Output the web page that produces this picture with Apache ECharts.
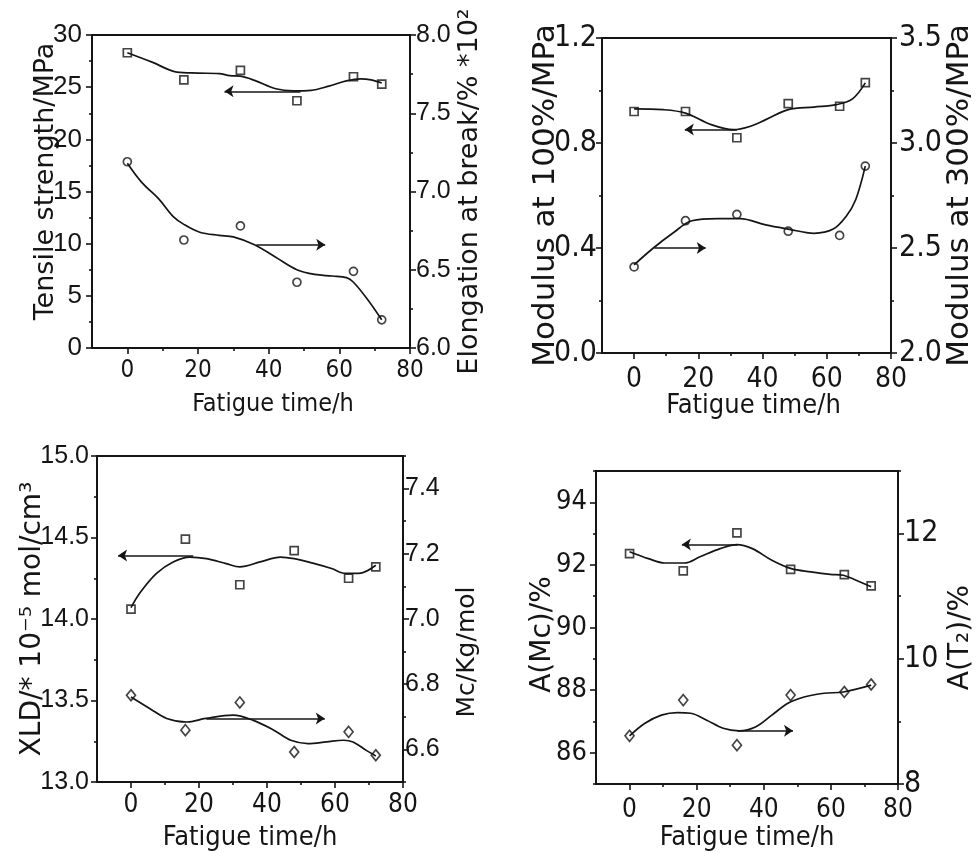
<!DOCTYPE html>
<html>
<head>
<meta charset="utf-8">
<script src="https://cdn.jsdelivr.net/npm/echarts@6/dist/echarts.min.js"></script>
<style>
  html, body { margin: 0; padding: 0; background: #fff; }
  #chart { width: 976px; height: 853px; }
</style>
</head>
<body>
<div id="chart"></div>
<script>
// ---- measured values -------------------------------------------------------
// fatigue times at which the samples were tested (h)
const fatigueTime = [0, 16, 32, 48, 64, 72];

// (a) tensile strength (MPa, left) and elongation at break (%*100, right)
const tensileStrength = [28.3, 25.7, 26.6, 23.7, 26.0, 25.3];
const elongationAtBreak = [7.19, 6.69, 6.78, 6.42, 6.49, 6.18];
const tensileCurve = [[0, 28.3], [7, 27.4], [14, 26.45], [20, 26.35], [26, 26.3], [29, 26.1], [32, 26.05],
  [36, 25.65], [42, 24.85], [47, 24.65], [52, 24.7], [57, 25.1], [62, 25.6], [66, 25.8], [69, 25.7], [72, 25.4]];
const elongationCurve = [[0, 7.18], [4, 7.06], [9, 6.95], [13, 6.84], [16, 6.79], [20.5, 6.74], [26, 6.72],
  [30, 6.71], [36, 6.66], [42, 6.58], [48, 6.50], [53, 6.47], [58, 6.46], [62, 6.45], [64, 6.42], [68, 6.31], [72, 6.18]];
const tensileArrow = { y: 24.6, from: 49, to: 27.5 };
const elongationArrow = { y: 6.66, from: 36.5, to: 56 };

// (b) modulus at 100% (left) and at 300% (right), MPa
const modulus100 = [0.92, 0.92, 0.82, 0.95, 0.94, 1.03];
const modulus300 = [2.41, 2.63, 2.66, 2.58, 2.56, 2.89];
const modulus100Curve = [[0, 0.93], [9, 0.927], [16, 0.914], [24, 0.870], [31, 0.851], [36, 0.863], [41, 0.889],
  [48, 0.927], [56, 0.937], [63, 0.946], [68, 0.968], [72, 1.029]];
const modulus300Curve = [[0, 2.42], [6, 2.50], [12, 2.57], [18, 2.63], [26, 2.64], [33, 2.64], [41, 2.61],
  [48, 2.59], [56, 2.57], [62, 2.59], [66, 2.65], [69, 2.73], [72, 2.89]];
const modulus100Arrow = { y: 0.851, from: 32, to: 15.8 };
const modulus300Arrow = { y: 2.50, from: 6.3, to: 22.3 };

// (c) crosslink density (left) and Mc (right)
const crosslinkDensity = [14.06, 14.49, 14.21, 14.42, 14.25, 14.32];
const mcValues = [6.766, 6.659, 6.744, 6.592, 6.654, 6.582];
const crosslinkCurve = [[0, 14.07], [2.6, 14.16], [7.5, 14.28], [12.4, 14.35], [17.3, 14.38], [22.2, 14.37],
  [28, 14.34], [32, 14.32], [38, 14.35], [44, 14.38], [48, 14.37], [54, 14.34], [59, 14.31], [63, 14.28],
  [67, 14.28], [72, 14.33]];
const mcCurve = [[0, 6.761], [5.6, 6.725], [10.5, 6.695], [16.4, 6.684], [22, 6.695], [30, 6.705], [36, 6.689],
  [42, 6.659], [47, 6.628], [52, 6.618], [57.5, 6.623], [62.5, 6.628], [65.3, 6.623], [69.2, 6.597], [72, 6.58]];
const crosslinkArrow = { y: 14.39, from: 18.3, to: -3.8 };
const mcArrow = { y: 6.695, from: 22.2, to: 57 };

// (d) A(Mc) (left) and A(T2) (right), %
const aMc = [92.36, 91.81, 93.02, 91.86, 91.69, 91.33];
const aT2 = [8.77, 9.34, 8.62, 9.42, 9.47, 9.59];
const aMcCurve = [[0, 92.42], [5.6, 92.2], [10.5, 92.06], [16.3, 92.06], [21, 92.26], [27, 92.52], [32, 92.65],
  [36.6, 92.52], [42.4, 92.15], [48.2, 91.88], [54, 91.78], [59.8, 91.70], [63.7, 91.67], [67.5, 91.51], [72, 91.30]];
const aT2Curve = [[0, 8.77], [4.6, 8.97], [9.5, 9.10], [14.3, 9.14], [18.2, 9.13], [23, 9.02], [27.9, 8.89],
  [32.7, 8.85], [37.5, 8.91], [42.4, 9.10], [47.2, 9.29], [52, 9.39], [58, 9.45], [63.7, 9.47], [72, 9.58]];
const aMcArrow = { y: 92.65, from: 32.2, to: 15.6 };
const aT2Arrow = { y: 8.85, from: 32.2, to: 48.7 };

// ---- tick values ------------------------------------------------------------
const timeTicks = [0, 20, 40, 60, 80];
const timeMinorTicks = [10, 30, 50, 70];
const tensileTicks = [0, 5, 10, 15, 20, 25, 30];
const tensileMinorTicks = [2.5, 7.5, 12.5, 17.5, 22.5, 27.5];
const elongationTicks = [6.0, 6.5, 7.0, 7.5, 8.0];
const elongationMinorTicks = [6.25, 6.75, 7.25, 7.75];
const modulus100Ticks = [0.0, 0.4, 0.8, 1.2];
const modulus100MinorTicks = [0.2, 0.6, 1.0];
const modulus300Ticks = [2.0, 2.5, 3.0, 3.5];
const modulus300MinorTicks = [2.25, 2.75, 3.25];
const crosslinkTicks = [13.0, 13.5, 14.0, 14.5, 15.0];
const crosslinkMinorTicks = [13.25, 13.75, 14.25, 14.75];
const mcTicks = [6.6, 6.8, 7.0, 7.2, 7.4];
const mcMinorTicks = [6.5, 6.7, 6.9, 7.1, 7.3, 7.5];
const aMcTicks = [86, 88, 90, 92, 94];
const aMcMinorTicks = [85, 87, 89, 91, 93, 95];
const aT2Ticks = [8, 10, 12];
const aT2MinorTicks = [9, 11, 13];

// ---- styling ----------------------------------------------------------------
const INK = '#151515';
const NARROW = "'Liberation Sans Narrow','Arial Narrow','DejaVu Sans Condensed','Liberation Sans',sans-serif";
const REGULAR = "'Liberation Sans',Arial,sans-serif";
const TITLE = "'DejaVu Sans',sans-serif";

const pairs = (xs, ys) => xs.map((x, i) => [x, ys[i]]);

const panels = [
  {
    grid: { left: 92, top: 35, width: 318, height: 313 },
    x: { fontSize: 24, margin: 11, nameSize: 25, nameGap: 44, namePad: [0, 0, 0, 44] },
    left: { min: 0, max: 30, ticks: tensileTicks, minor: tensileMinorTicks, digits: 0, font: REGULAR, fontSize: 26,
      margin: 10, name: 'Tensile strength/MPa', nameSize: 27, nameGap: 33, namePad: [0, 0, 0, 20] },
    right: { min: 6, max: 8, ticks: elongationTicks, minor: elongationMinorTicks, digits: 1, font: REGULAR, fontSize: 25,
      margin: 6, name: 'Elongation at break/% *10\u00B2', nameSize: 27, nameGap: 46, namePad: [0, 0, 0, 0] },
    upper: { values: tensileStrength, curve: tensileCurve, arrow: tensileArrow, symbol: 'rect', size: 8 },
    lower: { values: elongationAtBreak, curve: elongationCurve, arrow: elongationArrow, symbol: 'circle', size: 8 },
    upperAxis: 'left', lowerAxis: 'right'
  },
  {
    grid: { left: 602, top: 38, width: 300, height: 315 },
    x: { fontSize: 28, margin: 13, nameSize: 27, nameGap: 39, namePad: [0, 0, 0, 14] },
    left: { min: 0, max: 1.2, ticks: modulus100Ticks, minor: modulus100MinorTicks, digits: 1, font: NARROW, fontSize: 30,
      margin: 5, name: 'Modulus at 100%/MPa', nameSize: 31, nameGap: 41, namePad: [0, 0, 0, 0] },
    right: { min: 2, max: 3.5, ticks: modulus300Ticks, minor: modulus300MinorTicks, digits: 1, font: NARROW, fontSize: 30,
      margin: 8, name: 'Modulus at 300%/MPa', nameSize: 31, nameGap: 53, namePad: [0, 0, 0, 0] },
    upper: { values: modulus100, curve: modulus100Curve, arrow: modulus100Arrow, symbol: 'rect', size: 8 },
    lower: { values: modulus300, curve: modulus300Curve, arrow: modulus300Arrow, symbol: 'circle', size: 8 },
    upperAxis: 'left', lowerAxis: 'right'
  },
  {
    grid: { left: 97, top: 456, width: 306, height: 326 },
    x: { fontSize: 26, margin: 10, nameSize: 27, nameGap: 42, namePad: [0, 0, 0, 0] },
    left: { min: 13, max: 15, ticks: crosslinkTicks, minor: crosslinkMinorTicks, digits: 1, font: REGULAR, fontSize: 25,
      margin: 8, name: 'XLD/* 10\u207B\u2075 mol/cm\u00B3', nameSize: 28, nameGap: 50, namePad: [0, 0, 0, 0] },
    right: { min: 6.5, max: 7.5, ticks: mcTicks, minor: mcMinorTicks, digits: 1, font: REGULAR, fontSize: 25,
      margin: 2, name: 'Mc/Kg/mol', nameSize: 25, nameGap: 52, namePad: [0, 66, 0, 0] },
    upper: { values: crosslinkDensity, curve: crosslinkCurve, arrow: crosslinkArrow, symbol: 'rect', size: 8 },
    lower: { values: mcValues, curve: mcCurve, arrow: mcArrow, symbol: 'diamond', size: [9, 11] },
    upperAxis: 'left', lowerAxis: 'right'
  },
  {
    grid: { left: 596, top: 471, width: 310, height: 313 },
    x: { fontSize: 26, margin: 13, nameSize: 27, nameGap: 40, namePad: [0, 0, 0, 0] },
    left: { min: 85, max: 95, ticks: aMcTicks, minor: aMcMinorTicks, digits: 0, font: NARROW, fontSize: 27,
      margin: 9, name: 'A(Mc)/%', nameSize: 28, nameGap: 39, namePad: [0, 14, 0, 0] },
    right: { min: 8, max: 13, ticks: aT2Ticks, minor: aT2MinorTicks, digits: 0, font: NARROW, fontSize: 30,
      margin: 6, name: 'A(T\u2082)/%', nameSize: 28, nameGap: 49, namePad: [0, 20, 0, 0] },
    upper: { values: aMc, curve: aMcCurve, arrow: aMcArrow, symbol: 'rect', size: 8 },
    lower: { values: aT2, curve: aT2Curve, arrow: aT2Arrow, symbol: 'diamond', size: [9, 11] },
    upperAxis: 'left', lowerAxis: 'right'
  }
];

const option = {
  animation: false,
  backgroundColor: '#ffffff',
  grid: [], xAxis: [], yAxis: [], series: []
};

function valueAxisBase(gridIndex, min, max) {
  return {
    type: 'value', gridIndex, min, max,
    splitLine: { show: false },
    axisLine: { show: true, onZero: false, lineStyle: { color: INK, width: 2 } }
  };
}

function addTimeAxes(p, gi) {
  const main = valueAxisBase(gi, -10, 80);
  Object.assign(main, {
    position: 'bottom',
    axisTick: { show: true, customValues: timeTicks, length: 6, lineStyle: { color: INK, width: 1.6 } },
    axisLabel: { show: true, customValues: timeTicks, margin: p.x.margin, color: INK,
      fontFamily: NARROW, fontSize: p.x.fontSize },
    name: 'Fatigue time/h', nameLocation: 'middle', nameGap: p.x.nameGap, nameMoveOverlap: false,
    nameTextStyle: { color: INK, fontFamily: NARROW, fontSize: p.x.nameSize, padding: p.x.namePad }
  });
  const minor = valueAxisBase(gi, -10, 80);
  Object.assign(minor, {
    position: 'bottom',
    axisLine: { show: false, onZero: false },
    axisTick: { show: true, customValues: timeMinorTicks, length: 3, lineStyle: { color: INK, width: 1.6 } },
    axisLabel: { show: false }
  });
  const idx = option.xAxis.length;
  option.xAxis.push(main, minor);
  return idx;
}

function addValueAxes(cfg, gi, side) {
  const main = valueAxisBase(gi, cfg.min, cfg.max);
  Object.assign(main, {
    position: side,
    axisTick: { show: true, customValues: cfg.ticks, length: 6, lineStyle: { color: INK, width: 1.6 } },
    axisLabel: { show: true, customValues: cfg.ticks, margin: cfg.margin, color: INK,
      fontFamily: cfg.font, fontSize: cfg.fontSize, formatter: v => Number(v).toFixed(cfg.digits) },
    name: cfg.name, nameLocation: 'middle', nameGap: cfg.nameGap, nameMoveOverlap: false,
    nameTextStyle: { color: INK, fontFamily: TITLE, fontSize: cfg.nameSize, padding: cfg.namePad }
  });
  const minor = valueAxisBase(gi, cfg.min, cfg.max);
  Object.assign(minor, {
    position: side,
    axisLine: { show: false, onZero: false },
    axisTick: { show: true, customValues: cfg.minor, length: 3, lineStyle: { color: INK, width: 1.6 } },
    axisLabel: { show: false }
  });
  const idx = option.yAxis.length;
  option.yAxis.push(main, minor);
  return idx;
}

// fitted curve with its direction arrow, plus the measured points
function addSeriesSet(set, xi, yi) {
  option.series.push({
    type: 'line', xAxisIndex: xi, yAxisIndex: yi,
    data: set.curve, smooth: 0.35, showSymbol: false, silent: true,
    lineStyle: { color: INK, width: 1.7 },
    markLine: {
      silent: true, animation: false,
      symbol: ['none', 'arrow'], symbolSize: 9,
      label: { show: false },
      lineStyle: { color: INK, width: 1.7, type: 'solid' },
      emphasis: { disabled: true },
      data: [[{ coord: [set.arrow.from, set.arrow.y] }, { coord: [set.arrow.to, set.arrow.y] }]]
    }
  });
  option.series.push({
    type: 'scatter', xAxisIndex: xi, yAxisIndex: yi,
    data: pairs(fatigueTime, set.values),
    symbol: set.symbol, symbolSize: set.size, silent: true,
    itemStyle: { color: 'rgba(255,255,255,0)', borderColor: INK, borderWidth: 1.7 }
  });
}

panels.forEach((p, gi) => {
  option.grid.push(Object.assign({ show: true, borderColor: INK, borderWidth: 2, backgroundColor: 'transparent' }, p.grid));
  const xi = addTimeAxes(p, gi);
  const yl = addValueAxes(p.left, gi, 'left');
  const yr = addValueAxes(p.right, gi, 'right');
  addSeriesSet(p.upper, xi, p.upperAxis === 'left' ? yl : yr);
  addSeriesSet(p.lower, xi, p.lowerAxis === 'left' ? yl : yr);
});

const chart = echarts.init(document.getElementById('chart'), null, { renderer: 'canvas' });
chart.setOption(option);
</script>
</body>
</html>
